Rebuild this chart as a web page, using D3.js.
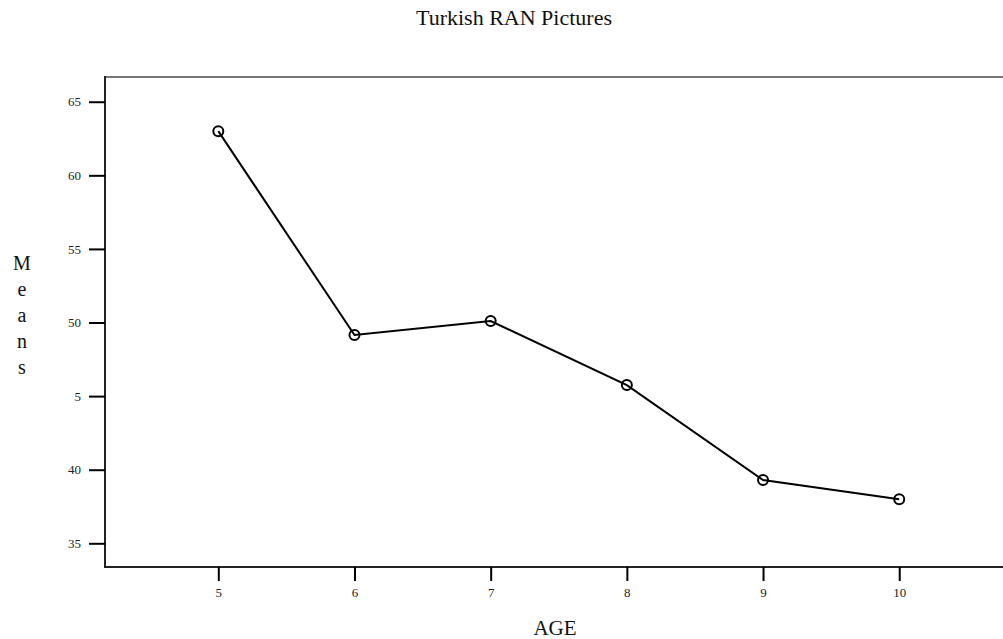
<!DOCTYPE html>
<html>
<head>
<meta charset="utf-8">
<script src="https://cdn.jsdelivr.net/npm/d3@7"></script>
<style>
  html, body { margin: 0; padding: 0; background: #fff; }
  svg { display: block; font-family: "Liberation Serif", "DejaVu Serif", serif; }
</style>
</head>
<body>
<svg id="chart" width="1003" height="639"></svg>
<script>
// ---- data ----
const ages = [5, 6, 7, 8, 9, 10];
const means = [63.0, 49.15, 50.1, 45.75, 39.3, 38.0];
const xTickValues = [5, 6, 7, 8, 9, 10];
const xTickLabels = ["5", "6", "7", "8", "9", "10"];
const yTickValues = [35, 40, 45, 50, 55, 60, 65];
const yTickLabels = ["35", "40", "5", "50", "55", "60", "65"];
const chartTitle = "Turkish RAN Pictures";
const xTitle = "AGE";
const yTitle = "Means";

(function () {
const svg = d3.select("#chart");
const mLeft = 105, mTop = 77, mBottom = 567, mRight = 1003;

const x = d3.scaleLinear().domain([4.168, 10.762]).range([mLeft, mRight]);
const y = d3.scaleLinear().domain([33.39, 66.68]).range([mBottom, mTop]);

// frame
svg.append("line").attr("x1", mLeft).attr("x2", mRight + 10).attr("y1", mTop).attr("y2", mTop)
  .attr("stroke", "#777").attr("stroke-width", 2);
svg.append("line").attr("x1", mLeft).attr("x2", mLeft).attr("y1", mTop - 1).attr("y2", mBottom + 1)
  .attr("stroke", "#222").attr("stroke-width", 2);
svg.append("line").attr("x1", mLeft - 1).attr("x2", mRight + 10).attr("y1", mBottom).attr("y2", mBottom)
  .attr("stroke", "#222").attr("stroke-width", 2);

// axes
const yAxis = d3.axisLeft(y).tickValues(yTickValues)
  .tickFormat((d, i) => yTickLabels[i]).tickSize(16).tickSizeOuter(0).tickPadding(8);
const gy = svg.append("g").attr("transform", `translate(${mLeft},0)`).call(yAxis);
gy.select(".domain").remove();
gy.selectAll(".tick line").attr("stroke", "#000").attr("stroke-width", 2);
gy.selectAll(".tick text").attr("font-size", 13).attr("fill", "#222")
  .attr("font-family", "Liberation Serif, serif");

const xAxis = d3.axisBottom(x).tickValues(xTickValues)
  .tickFormat((d, i) => xTickLabels[i]).tickSize(14).tickSizeOuter(0).tickPadding(7);
const gx = svg.append("g").attr("transform", `translate(0,${mBottom})`).call(xAxis);
gx.select(".domain").remove();
gx.selectAll(".tick line").attr("stroke", "#000").attr("stroke-width", 2);
gx.selectAll(".tick text").attr("font-size", 13).attr("fill", "#222")
  .attr("font-family", "Liberation Serif, serif");

// line
const data = ages.map((a, i) => ({ a, m: means[i] }));
svg.append("path").datum(data)
  .attr("fill", "none").attr("stroke", "#000").attr("stroke-width", 2)
  .attr("d", d3.line().x(d => x(d.a)).y(d => y(d.m)));

svg.selectAll("circle.pt").data(data).enter().append("circle")
  .attr("class", "pt")
  .attr("cx", d => x(d.a)).attr("cy", d => y(d.m)).attr("r", 5)
  .attr("fill", "none").attr("stroke", "#000").attr("stroke-width", 2);

// titles
svg.append("text").attr("x", 514).attr("y", 25).attr("text-anchor", "middle")
  .attr("font-size", 22).attr("fill", "#111").text(chartTitle);

svg.append("text").attr("x", 555).attr("y", 635).attr("text-anchor", "middle")
  .attr("font-size", 21).attr("fill", "#111").text(xTitle);

const yt = svg.append("text").attr("x", 22).attr("text-anchor", "middle")
  .attr("font-size", 20).attr("fill", "#111");
yTitle.split("").forEach((ch, i) => {
  yt.append("tspan").attr("x", 22).attr("y", 270 + i * 26).text(ch);
});
})();
</script>
</body>
</html>
